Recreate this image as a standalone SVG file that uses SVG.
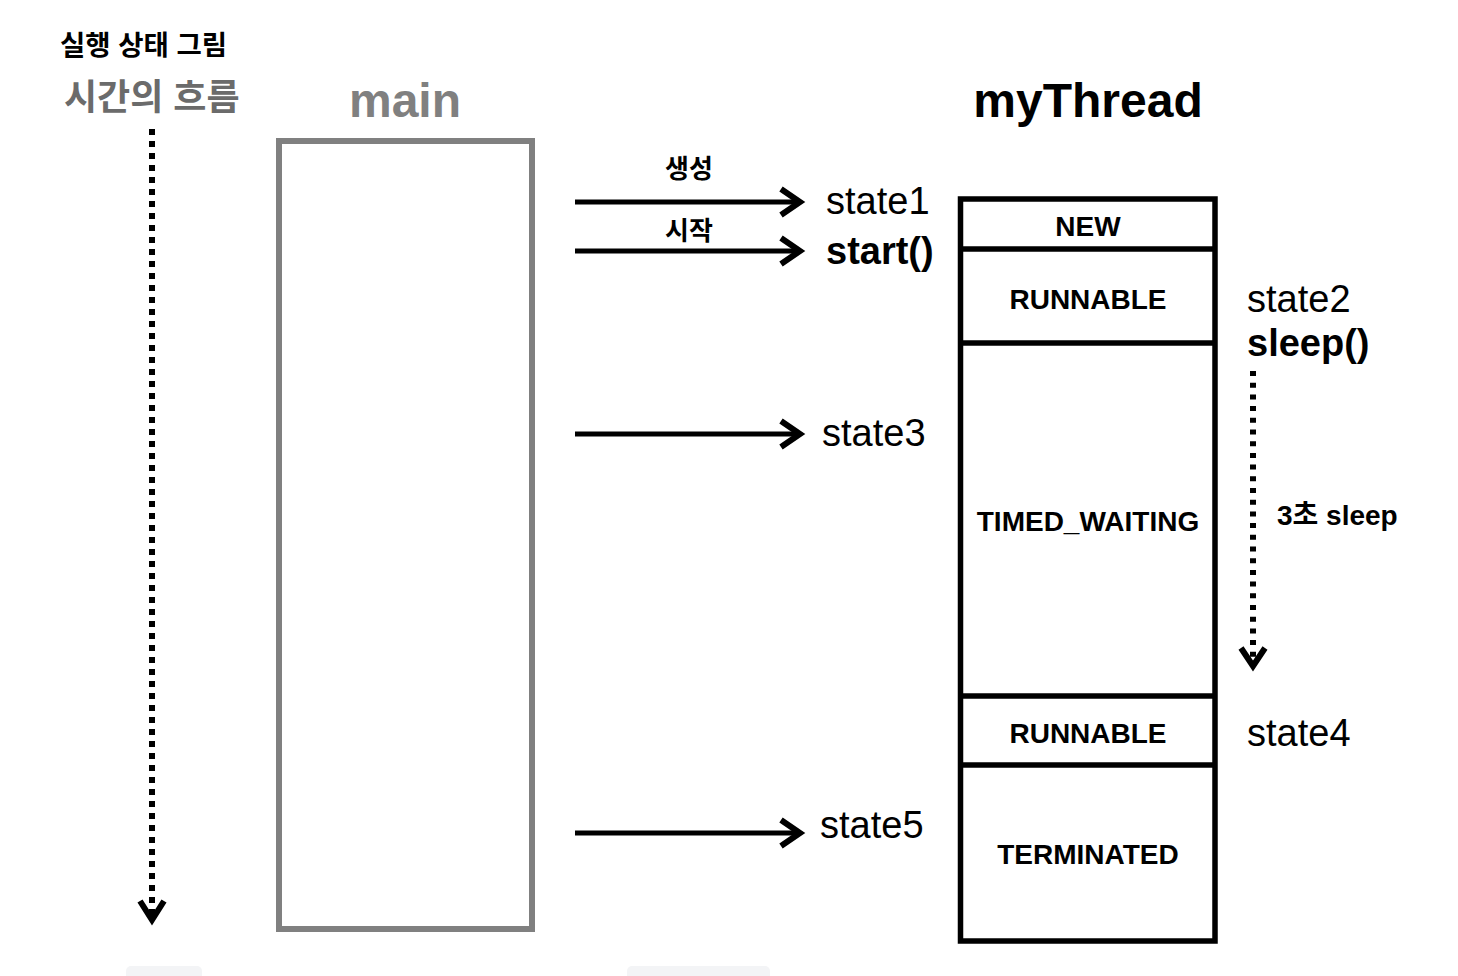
<svg xmlns="http://www.w3.org/2000/svg" width="1458" height="976" viewBox="0 0 1458 976">
<style>
.ko{font-family:"Liberation Sans","Noto Sans CJK KR",sans-serif;font-weight:bold}
.lat{font-family:"Liberation Sans",Arial,sans-serif}
.b{font-weight:bold}
.st{font-size:38px;fill:#000}
.cell{font-size:28px;font-weight:bold;text-anchor:middle;fill:#000}
.arr{stroke:#000;stroke-width:5;fill:none}
.chev{stroke:#000;stroke-width:6;fill:none;stroke-linejoin:miter}
.dot{stroke:#000;stroke-width:6;fill:none}
</style>
<rect width="1458" height="976" fill="#fff"/>
<g id="titles">
<text x="60" y="55" class="ko" font-size="27.5" fill="#000">실행 상태 그림</text>
<text x="64" y="110" class="ko" font-size="36" fill="#6b6b6b">시간의 흐름</text>
</g>
<g id="main">
<text x="405" y="117" class="lat b" font-size="48" fill="#808080" text-anchor="middle">main</text>
<rect x="279" y="141" width="253" height="788" fill="none" stroke="#808080" stroke-width="6"/>
</g>
<g id="myThread">
<text x="1088" y="117" class="lat b" font-size="48" fill="#000" text-anchor="middle">myThread</text>
<rect x="960.5" y="199" width="254.5" height="742" fill="none" stroke="#000" stroke-width="5.5"/>
<line x1="960" y1="249" x2="1215" y2="249" stroke="#000" stroke-width="5.5"/>
<line x1="960" y1="343" x2="1215" y2="343" stroke="#000" stroke-width="5.5"/>
<line x1="960" y1="696" x2="1215" y2="696" stroke="#000" stroke-width="5.5"/>
<line x1="960" y1="765" x2="1215" y2="765" stroke="#000" stroke-width="5.5"/>
</g>
<g id="state-NEW"><text x="1088" y="236" class="lat cell">NEW</text></g>
<g id="state-RUNNABLE1"><text x="1088" y="309" class="lat cell">RUNNABLE</text></g>
<g id="state-TIMED_WAITING"><text x="1088" y="531" class="lat cell" font-size="28.5">TIMED_WAITING</text></g>
<g id="state-RUNNABLE2"><text x="1088" y="743" class="lat cell">RUNNABLE</text></g>
<g id="state-TERMINATED"><text x="1088" y="864" class="lat cell">TERMINATED</text></g>
<g id="labels">
<text x="826" y="214" class="lat st">state1</text>
<text x="826" y="264" class="lat st b">start()</text>
<text x="822" y="446" class="lat st">state3</text>
<text x="820" y="838" class="lat st">state5</text>
<text x="1247" y="312" class="lat st">state2</text>
<text x="1247" y="356" class="lat st b">sleep()</text>
<text x="1247" y="746" class="lat st">state4</text>
<text x="689" y="178" class="ko" font-size="26" text-anchor="middle">생성</text>
<text x="689" y="240" class="ko" font-size="26" text-anchor="middle">시작</text>
<text x="1277" y="525" class="ko" font-size="28">3초 sleep</text>
</g>
<g id="connectors">
<line x1="575" y1="202" x2="798" y2="202" class="arr"/>
<polyline points="781,189 800,202 781,215" class="chev"/>
<line x1="575" y1="251" x2="798" y2="251" class="arr"/>
<polyline points="781,238 800,251 781,264" class="chev"/>
<line x1="575" y1="434" x2="798" y2="434" class="arr"/>
<polyline points="781,421 800,434 781,447" class="chev"/>
<line x1="575" y1="833" x2="798" y2="833" class="arr"/>
<polyline points="781,820 800,833 781,846" class="chev"/>
<line x1="152" y1="129" x2="152" y2="918" class="dot" stroke-dasharray="6 6"/>
<polyline points="140,901 152,920 164,901" class="chev"/>
<line x1="1253" y1="371" x2="1253" y2="664" class="dot" stroke-width="5" stroke-dasharray="5 6.7"/>
<polyline points="1241,648 1253,666 1265,648" class="chev"/>
</g>
<g id="bottom">
<rect x="126" y="966" width="76" height="20" rx="5" fill="#f3f4f6"/>
<rect x="627" y="966" width="143" height="20" rx="5" fill="#f3f4f6"/>
</g>
</svg>
